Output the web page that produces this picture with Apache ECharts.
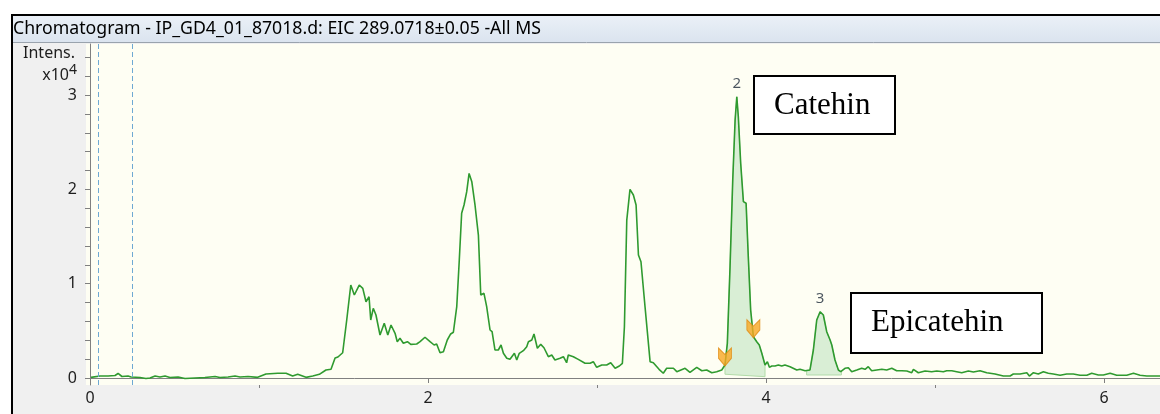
<!DOCTYPE html>
<html>
<head>
<meta charset="utf-8">
<script src="https://cdn.jsdelivr.net/npm/echarts@6/dist/echarts.min.js"></script>
<style>
html,body{margin:0;padding:0;background:#fff;}
#chart{width:1160px;height:414px;}
</style>
</head>
<body>
<div id="chart"></div>
<script>
// Retention time (min)
var times = [
0.006,0.059,0.107,0.148,0.166,0.189,0.225,0.243,0.296,0.331,0.355,0.385,0.414,0.444,0.473,0.521,0.562,0.621,0.680,0.740,
0.769,0.817,0.858,0.888,0.935,0.992,1.041,1.111,1.160,1.199,1.229,1.278,1.318,1.357,1.396,1.426,1.450,1.467,1.495,1.519,
1.543,1.564,1.593,1.614,1.633,1.651,1.661,1.676,1.692,1.716,1.741,1.762,1.781,1.805,1.818,1.834,1.854,1.878,1.898,1.933,
1.953,1.982,2.012,2.036,2.051,2.071,2.091,2.114,2.134,2.150,2.170,2.185,2.199,2.213,2.229,2.243,2.259,2.278,2.298,2.312,
2.331,2.347,2.367,2.379,2.396,2.416,2.432,2.446,2.466,2.485,2.511,2.525,2.540,2.564,2.584,2.594,2.614,2.627,2.647,2.667,
2.686,2.712,2.732,2.751,2.781,2.801,2.820,2.830,2.860,2.889,2.929,2.959,2.978,2.998,3.028,3.057,3.081,3.107,3.132,3.150,
3.162,3.176,3.195,3.215,3.231,3.245,3.260,3.284,3.314,3.333,3.367,3.392,3.412,3.452,3.472,3.521,3.550,3.590,3.620,3.649,
3.679,3.708,3.738,3.757,3.771,3.787,3.803,3.817,3.827,3.836,3.850,3.866,3.882,3.895,3.909,3.925,3.945,3.960,3.975,3.994,
4.008,4.020,4.034,4.053,4.073,4.093,4.112,4.142,4.182,4.201,4.231,4.260,4.280,4.300,4.320,4.339,4.359,4.379,4.389,4.408,
4.428,4.442,4.467,4.487,4.507,4.537,4.566,4.586,4.605,4.625,4.655,4.685,4.714,4.744,4.773,4.803,4.833,4.862,4.872,4.901,
4.941,4.980,5.010,5.049,5.069,5.099,5.128,5.158,5.197,5.227,5.266,5.306,5.355,5.404,5.444,5.463,5.503,5.543,5.558,5.582,
5.611,5.641,5.670,5.700,5.740,5.779,5.818,5.858,5.898,5.927,5.966,5.996,6.036,6.075,6.134,6.174,6.213,6.253,6.292,6.331
];
// Intensity (x10^4)
var intensities = [
0.007,0.021,0.021,0.027,0.048,0.016,0.021,0.011,0.005,-0.005,0.000,0.021,0.011,0.021,0.005,0.011,-0.005,0.000,0.005,0.016,
0.005,0.011,0.021,0.011,0.016,0.007,0.042,0.050,0.050,0.021,0.039,0.007,0.021,0.039,0.085,0.092,0.212,0.223,0.268,0.615,
0.986,0.880,0.986,0.951,0.809,0.862,0.615,0.739,0.668,0.456,0.580,0.456,0.562,0.474,0.385,0.421,0.368,0.385,0.357,0.361,
0.385,0.432,0.385,0.350,0.361,0.268,0.279,0.403,0.467,0.485,0.756,1.251,1.747,1.835,1.976,2.170,2.082,1.835,1.516,0.880,
0.898,0.756,0.509,0.491,0.297,0.297,0.350,0.262,0.209,0.198,0.262,0.191,0.262,0.290,0.332,0.385,0.403,0.467,0.315,0.357,
0.321,0.226,0.244,0.191,0.209,0.226,0.162,0.244,0.226,0.198,0.156,0.156,0.173,0.113,0.138,0.138,0.162,0.103,0.127,0.156,
0.544,1.675,2.000,1.941,1.835,1.304,1.233,0.756,0.173,0.162,0.092,0.050,0.103,0.103,0.067,0.103,0.060,0.113,0.077,0.085,
0.056,0.067,0.085,0.138,0.368,1.180,2.100,2.736,2.983,2.771,2.277,1.870,1.853,1.286,0.721,0.438,0.385,0.350,0.262,0.138,
0.173,0.113,0.127,0.127,0.138,0.127,0.138,0.120,0.085,0.092,0.077,0.085,0.297,0.615,0.703,0.668,0.491,0.403,0.350,0.191,
0.085,0.067,0.103,0.109,0.067,0.085,0.103,0.092,0.120,0.077,0.085,0.092,0.085,0.103,0.077,0.077,0.074,0.056,0.092,0.056,
0.074,0.067,0.074,0.067,0.077,0.077,0.067,0.056,0.074,0.064,0.077,0.056,0.042,0.021,0.021,0.042,0.042,0.056,0.021,0.056,
0.042,0.067,0.050,0.042,0.029,0.042,0.042,0.029,0.029,0.050,0.032,0.032,0.050,0.029,0.029,0.050,0.029,0.021,0.021,0.021
];
// Integrated peaks
var peakNames = ['2', '3'];
var peakApexTimes = [3.827, 4.320];
var peakApexIntens = [2.983, 0.703];
var peakStart = [3.757, 4.240];
var peakEnd = [3.994, 4.446];
var peakBaseStart = [0.040, 0.032];
var peakBaseEnd = [0.014, 0.032];
// Peak boundary markers (orange arrows)
var markerTimes = [3.757, 3.925];
var markerIntens = [0.138, 0.438];
// Dashed vertical lines
var dashedTimes = [0.046, 0.247];
// Axis tick values
var xLabelValues = [0, 2, 4, 6];
var xMinorValues = [1, 3, 5];
var yLabelValues = [0, 1, 2, 3];
var yTickValues = [0, 0.2, 0.4, 0.6, 0.8, 1, 1.2, 1.4, 1.6, 1.8, 2, 2.2, 2.4, 2.6, 2.8, 3, 3.2, 3.4];

var trace = times.map(function (t, i) { return [t, intensities[i]]; });

function interp(t) {
  for (var i = 1; i < times.length; i++) {
    if (times[i] >= t) {
      var f = (t - times[i - 1]) / (times[i] - times[i - 1]);
      return intensities[i - 1] + f * (intensities[i] - intensities[i - 1]);
    }
  }
  return intensities[intensities.length - 1];
}

var chart = echarts.init(document.getElementById('chart'), null, {renderer: 'canvas'});
var uiFont = '"Noto Sans", "DejaVu Sans", sans-serif';
var axisColor = '#808080';
var labelColor = '#1e1e1e';

var option = {
  animation: false,
  backgroundColor: '#f0f0f0',
  grid: {
    left: 86, right: 0, top: 44, bottom: 29,
    show: true, backgroundColor: '#fefef3', borderWidth: 0
  },
  xAxis: [{
    type: 'value', min: -0.0237, max: 6.331, position: 'bottom',
    axisLine: {show: true, lineStyle: {color: axisColor, width: 1}},
    axisTick: {show: true, length: 5, customValues: xLabelValues, lineStyle: {color: axisColor}},
    axisLabel: {show: true, customValues: xLabelValues, margin: 5, fontSize: 16, color: labelColor, fontFamily: uiFont},
    splitLine: {show: false}
  }, {
    type: 'value', min: -0.0237, max: 6.331, position: 'bottom',
    axisLine: {show: false},
    axisTick: {show: true, length: 3, customValues: xMinorValues, lineStyle: {color: axisColor}},
    axisLabel: {show: false},
    splitLine: {show: false}
  }],
  yAxis: {
    type: 'value', min: -0.0742, max: 3.542,
    axisLine: {show: true, lineStyle: {color: axisColor, width: 1}},
    axisTick: {show: true, length: 5, customValues: yTickValues, lineStyle: {color: axisColor}},
    axisLabel: {show: true, customValues: yLabelValues, margin: 9, fontSize: 16, color: labelColor, fontFamily: uiFont},
    splitLine: {show: false}
  },
  graphic: [
    {type: 'rect', shape: {x: 0, y: 0, width: 1160, height: 14}, style: {fill: '#ffffff'}, silent: true},
    {type: 'rect', shape: {x: 0, y: 0, width: 11, height: 414}, style: {fill: '#ffffff'}, silent: true},
    {type: 'rect', shape: {x: 13, y: 16, width: 1147, height: 26},
      style: {fill: new echarts.graphic.LinearGradient(0, 0, 0, 1, [{offset: 0, color: '#eaf0f7'}, {offset: 1, color: '#dbe4ef'}])}, silent: true},
    {type: 'rect', shape: {x: 11, y: 14, width: 1149, height: 2}, style: {fill: '#000000'}, silent: true},
    {type: 'rect', shape: {x: 11, y: 14, width: 2, height: 400}, style: {fill: '#000000'}, silent: true},
    {type: 'line', shape: {x1: 13, y1: 42.5, x2: 1160, y2: 42.5}, style: {stroke: '#9aa3ad', lineWidth: 1}, silent: true},
    {type: 'text', x: 13, y: 29, style: {text: 'Chromatogram - IP_GD4_01_87018.d: EIC 289.0718±0.05 -All MS', fill: '#000000', font: '17.7px ' + uiFont, verticalAlign: 'middle'}, silent: true},
    {type: 'text', x: 75, y: 53, style: {text: 'Intens.', fill: labelColor, font: '16px ' + uiFont, align: 'right', verticalAlign: 'middle'}, silent: true},
    {type: 'text', x: 77, y: 75, style: {
      text: '{b|x10}{s|4}', align: 'right', verticalAlign: 'middle',
      rich: {
        b: {fontSize: 16, fontFamily: uiFont, fill: labelColor, color: labelColor},
        s: {fontSize: 14, fontFamily: uiFont, fill: labelColor, color: labelColor, verticalAlign: 'top', padding: [0, 0, 9, 0]}
      }}, silent: true},
    {type: 'rect', shape: {x: 754, y: 76, width: 141, height: 58}, style: {fill: '#ffffff', stroke: '#000000', lineWidth: 2}, z: 10, silent: true},
    {type: 'text', x: 774, y: 106, style: {text: 'Catehin', fill: '#000000', font: '31px "Liberation Serif", "Times New Roman", serif', verticalAlign: 'middle'}, z: 11, silent: true},
    {type: 'rect', shape: {x: 851, y: 293, width: 191, height: 60}, style: {fill: '#ffffff', stroke: '#000000', lineWidth: 2}, z: 10, silent: true},
    {type: 'text', x: 871, y: 323, style: {text: 'Epicatehin', fill: '#000000', font: '31px "Liberation Serif", "Times New Roman", serif', verticalAlign: 'middle'}, z: 11, silent: true}
  ],
  series: [
    {
      type: 'custom',
      coordinateSystem: 'cartesian2d',
      data: peakNames.map(function (n, i) { return [i]; }),
      z: 1,
      renderItem: function (params, api) {
        var k = api.value(0);
        var s = peakStart[k], e = peakEnd[k];
        var pts = [api.coord([s, interp(s)])];
        for (var i = 0; i < times.length; i++) {
          if (times[i] > s && times[i] < e) pts.push(api.coord([times[i], intensities[i]]));
        }
        pts.push(api.coord([e, interp(e)]));
        pts.push(api.coord([e, peakBaseEnd[k]]));
        pts.push(api.coord([s, peakBaseStart[k]]));
        return {type: 'polygon', shape: {points: pts}, style: {fill: '#d9eed5', stroke: '#b2dba9', lineWidth: 1}};
      }
    },
    {
      type: 'line',
      data: trace,
      showSymbol: false,
      z: 3,
      lineStyle: {color: '#2f9a2f', width: 1.6},
      markLine: {
        silent: true,
        symbol: 'none',
        label: {show: false},
        lineStyle: {color: '#6ea9d3', type: [5, 3], width: 1},
        data: dashedTimes.map(function (t) { return {xAxis: t}; })
      }
    },
    {
      type: 'scatter',
      z: 4,
      data: peakNames.map(function (n, i) { return [peakApexTimes[i], peakApexIntens[i], n]; }),
      symbolSize: 0,
      label: {
        show: true, position: 'top', distance: 5,
        formatter: function (p) { return p.value[2]; },
        fontSize: 15, color: '#1e2a3a', fontFamily: uiFont
      }
    },
    {
      type: 'scatter',
      z: 5,
      data: markerTimes.map(function (t, i) { return [t, markerIntens[i]]; }),
      symbol: 'path://M0,0 L5,5 L10,0 L10,8 L5,14 L0,8 Z',
      symbolSize: [13, 18],
      symbolOffset: [0, -8],
      itemStyle: {color: '#f7a823', borderColor: '#e08a10', borderWidth: 1}
    }
  ]
};
chart.setOption(option);
</script>
</body>
</html>
